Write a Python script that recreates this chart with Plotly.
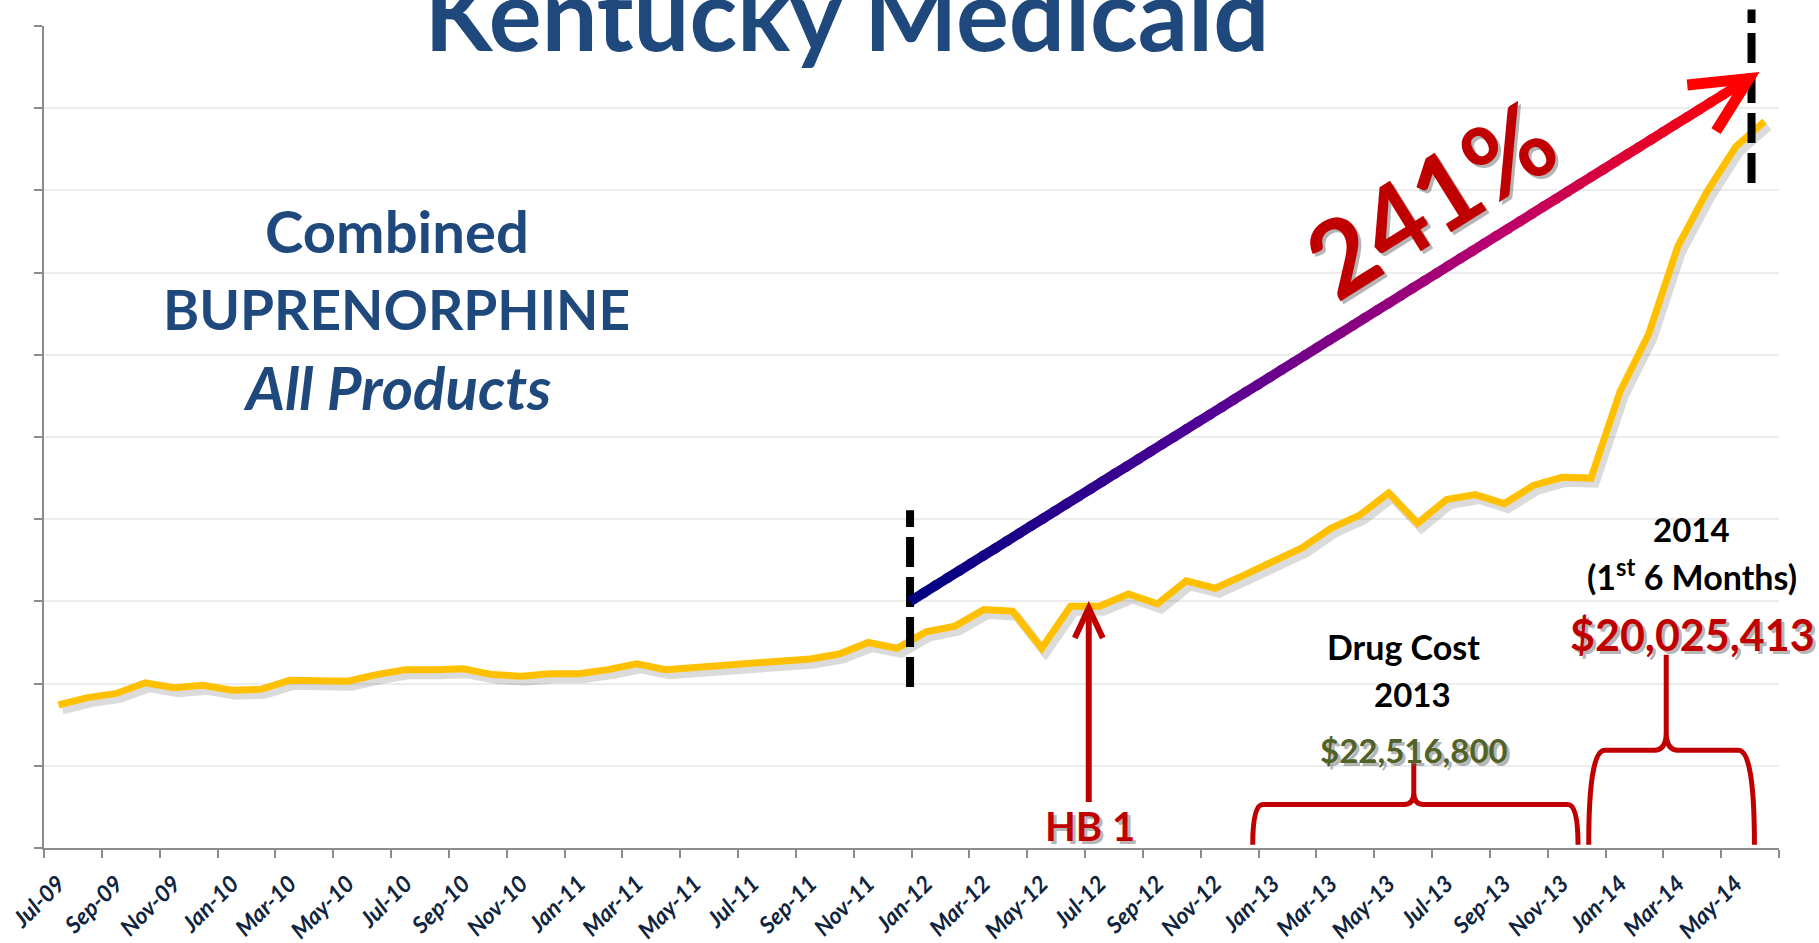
import math
import plotly.graph_objects as go

# monthly drug cost in grid-line units (the source axis has no labels)
MONTHS = [
    'Jul-09', 'Aug-09', 'Sep-09', 'Oct-09', 'Nov-09', 'Dec-09',
    'Jan-10', 'Feb-10', 'Mar-10', 'Apr-10', 'May-10', 'Jun-10',
    'Jul-10', 'Aug-10', 'Sep-10', 'Oct-10', 'Nov-10', 'Dec-10',
    'Jan-11', 'Feb-11', 'Mar-11', 'Apr-11', 'May-11', 'Jun-11',
    'Jul-11', 'Aug-11', 'Sep-11', 'Oct-11', 'Nov-11', 'Dec-11',
    'Jan-12', 'Feb-12', 'Mar-12', 'Apr-12', 'May-12', 'Jun-12',
    'Jul-12', 'Aug-12', 'Sep-12', 'Oct-12', 'Nov-12', 'Dec-12',
    'Jan-13', 'Feb-13', 'Mar-13', 'Apr-13', 'May-13', 'Jun-13',
    'Jul-13', 'Aug-13', 'Sep-13', 'Oct-13', 'Nov-13', 'Dec-13',
    'Jan-14', 'Feb-14', 'Mar-14', 'Apr-14', 'May-14', 'Jun-14',
]
COST = [
    1.74, 1.83, 1.88, 2.01, 1.95, 1.98,
    1.92, 1.93, 2.04, 2.04, 2.03, 2.11,
    2.17, 2.17, 2.18, 2.11, 2.09, 2.12,
    2.12, 2.17, 2.24, 2.17, 2.20, 2.21,
    2.25, 2.29, 2.30, 2.36, 2.50, 2.43,
    2.63, 2.70, 2.90, 2.88, 2.43, 2.94,
    2.94, 3.09, 2.97, 3.25, 3.16, 3.32,
    3.48, 3.65, 3.89, 4.05, 4.32, 3.95,
    4.24, 4.30, 4.19, 4.41, 4.51, 4.50,
    5.55, 6.26, 7.32, 7.98, 8.53, 8.84,
]
TICK_LABELS = MONTHS[::2]

TITLE = 'Kentucky Medicaid'
PRODUCT_LINES = ['Combined', 'BUPRENORPHINE', 'All Products']
GROWTH = '241%'
COST_2013 = '$22,516,800'
COST_2014 = '$20,025,413'

W, H = 1819, 943
M_L, M_R, M_T, M_B = 44, 40, 26, 95
Y_MAX = 10
PX_X = (W - M_L - M_R) / len(MONTHS)
PX_Y = (H - M_T - M_B) / Y_MAX

NAVY = '#1f497d'
RED = '#c00000'
AXIS = '#8c8c8c'
FONT = 'Lato'

x = list(range(len(MONTHS)))

fig = go.Figure()

# soft drop shadow under the line
fig.add_trace(go.Scatter(
    x=[i + 4 / PX_X for i in x],
    y=[v - 5 / PX_Y for v in COST],
    mode='lines',
    line=dict(color='rgba(90,90,90,0.22)', width=9),
    hoverinfo='skip',
))
fig.add_trace(go.Scatter(
    x=x, y=COST,
    mode='lines',
    line=dict(color='#ffc000', width=7),
    name='Buprenorphine',
))

shapes = []

# dashed markers at Jan-12 and Jun-14
shapes.append(dict(type='line', xref='x', yref='y', x0=29.45, x1=29.45, y0=1.96, y1=4.11,
                   line=dict(color='black', width=8, dash='30px,10px')))
shapes.append(dict(type='line', xref='x', yref='y domain', x0=58.55, x1=58.55, y0=0.809, y1=1.02,
                   line=dict(color='black', width=8, dash='30px,10px')))

# gradient arrow navy -> purple -> red
stops = [(0.0, (0, 0, 128)), (0.35, (80, 0, 150)), (0.7, (185, 0, 110)), (1.0, (255, 0, 0))]


def grad(t):
    for (t0, c0), (t1, c1) in zip(stops, stops[1:]):
        if t <= t1:
            f = (t - t0) / (t1 - t0)
            return 'rgb(%d,%d,%d)' % tuple(round(a + (b - a) * f) for a, b in zip(c0, c1))
    return 'rgb(255,0,0)'


ax0, ay0 = 29.45, 3.0
tipx, tipy = 58.46, 9.36
dxp, dyp = (tipx - ax0) * PX_X, (tipy - ay0) * PX_Y
length = math.hypot(dxp, dyp)
ang = math.atan2(dyp, dxp)
shaft = (length - 5) / length
n = 70
for k in range(n):
    t0, t1 = k / n * shaft, min((k + 1.3) / n * shaft, shaft)
    shapes.append(dict(type='line', xref='x', yref='y',
                       x0=ax0 + (tipx - ax0) * t0, y0=ay0 + (tipy - ay0) * t0,
                       x1=ax0 + (tipx - ax0) * t1, y1=ay0 + (tipy - ay0) * t1,
                       line=dict(color=grad((k + 0.5) / n), width=10)))

arm = 62
pts = []
for d in (math.radians(26), -math.radians(26)):
    a = ang + math.pi + d
    pts.append((tipx + arm * math.cos(a) / PX_X, tipy + arm * math.sin(a) / PX_Y))
shapes.append(dict(type='path', xref='x', yref='y',
                   path=f'M {pts[0][0]},{pts[0][1]} L {tipx},{tipy} L {pts[1][0]},{pts[1][1]}',
                   line=dict(color='#ff0000', width=11)))

# HB 1 arrow
hbx, hb_lo, hb_hi = 35.63, 0.56, 2.92
shapes.append(dict(type='line', xref='x', yref='y', x0=hbx, x1=hbx, y0=hb_lo, y1=hb_hi - 2 / PX_Y,
                   line=dict(color=RED, width=6)))
shapes.append(dict(type='path', xref='x', yref='y',
                   path=(f'M {hbx - 14 / PX_X},{hb_hi - 30 / PX_Y} L {hbx},{hb_hi} '
                         f'L {hbx + 14 / PX_X},{hb_hi - 30 / PX_Y}'),
                   line=dict(color=RED, width=6)))


# curly braces under 2013 and first half of 2014
def brace(x0, x1, xm, yb, yf, yp, ex, cx, cy):
    ex, cx, cy = ex / PX_X, cx / PX_X, cy / PX_Y
    return (f'M {x0},{yb} Q {x0},{yf} {x0 + ex},{yf} '
            f'L {xm - cx},{yf} Q {xm},{yf} {xm},{yf + cy} L {xm},{yp} '
            f'L {xm},{yf + cy} Q {xm},{yf} {xm + cx},{yf} '
            f'L {x1 - ex},{yf} Q {x1},{yf} {x1},{yb}')


shapes.append(dict(type='path', xref='x', yref='y',
                   path=brace(41.3, 52.55, 46.87, 0.04, 0.53, 1.03, 10, 10, 12),
                   line=dict(color=RED, width=5)))
shapes.append(dict(type='path', xref='x', yref='y',
                   path=brace(52.92, 58.65, 55.6, 0.04, 1.19, 2.35, 16, 12, 18),
                   line=dict(color=RED, width=5)))

annotations = []


def text(xv, yv, s, size, color, bold=True, italic=False, angle=0, shadow=False):
    f = dict(family=FONT, size=size, color=color, weight='bold' if bold else 'normal',
             style='italic' if italic else 'normal')
    if shadow:
        sf = dict(f, color='rgba(90,90,90,0.45)')
        annotations.append(dict(x=xv, y=yv, xref='x', yref='y', text=s, showarrow=False,
                                font=sf, textangle=angle, xshift=3, yshift=-3))
    annotations.append(dict(x=xv, y=yv, xref='x', yref='y', text=s, showarrow=False,
                            font=f, textangle=angle))


text(11.7, 7.51, PRODUCT_LINES[0], 58, NAVY)
text(11.7, 6.56, PRODUCT_LINES[1], 55, NAVY)
text(11.7, 5.61, PRODUCT_LINES[2], 60, NAVY, italic=True)
text(47.43, 7.92, GROWTH, 105, RED, angle=-32, shadow=True)
text(35.67, 0.27, 'HB 1', 40, RED, shadow=True)
text(46.53, 2.45, 'Drug Cost', 34, 'black')
text(46.84, 1.87, '2013', 33, 'black')
text(46.87, 1.19, COST_2013, 33, '#4f6228', shadow=True)
text(56.49, 3.88, '2014', 33, 'black')
text(56.49, 3.32, '(1<sup>st</sup> 6 Months)', 34, 'black')
text(56.52, 2.60, COST_2014, 43, RED, shadow=True)

fig.update_layout(
    width=W, height=H,
    margin=dict(l=M_L, r=M_R, t=M_T, b=M_B),
    plot_bgcolor='white', paper_bgcolor='white',
    showlegend=False,
    font=dict(family=FONT),
    title=dict(text=TITLE, x=(847 - M_L) / (W - M_L - M_R), xref='paper', xanchor='center',
               y=1 - 51 / H, yref='container', yanchor='bottom', automargin=False,
               font=dict(family=FONT, size=99, color=NAVY, weight='bold')),
    shapes=shapes,
    annotations=annotations,
)
fig.update_xaxes(
    range=[-0.5, len(MONTHS) - 0.5], automargin=False,
    tickmode='array', tickvals=x[::2], ticktext=TICK_LABELS,
    tickangle=-45, ticks='', ticklabelstandoff=11,
    tickfont=dict(family=FONT, size=23, color='#0f243e', weight='bold', style='italic'),
    showline=True, linecolor=AXIS, linewidth=2,
    showgrid=False, zeroline=False,
    minor=dict(tickmode='array', tickvals=[i - 0.5 for i in range(0, len(MONTHS) + 1, 2)],
               ticks='outside', ticklen=8, tickwidth=1.5, tickcolor=AXIS, showgrid=False),
)
fig.update_yaxes(
    range=[0, Y_MAX], dtick=1, automargin=False,
    showticklabels=False, ticks='outside', ticklen=8, tickwidth=1.5, tickcolor=AXIS,
    showline=True, linecolor=AXIS, linewidth=2,
    showgrid=True, gridcolor='#ececec', gridwidth=1.5, zeroline=False,
)

fig.write_html("out.html", config={'displayModeBar': False},
               post_script="document.body.style.margin='0';document.body.style.overflow='hidden';")
